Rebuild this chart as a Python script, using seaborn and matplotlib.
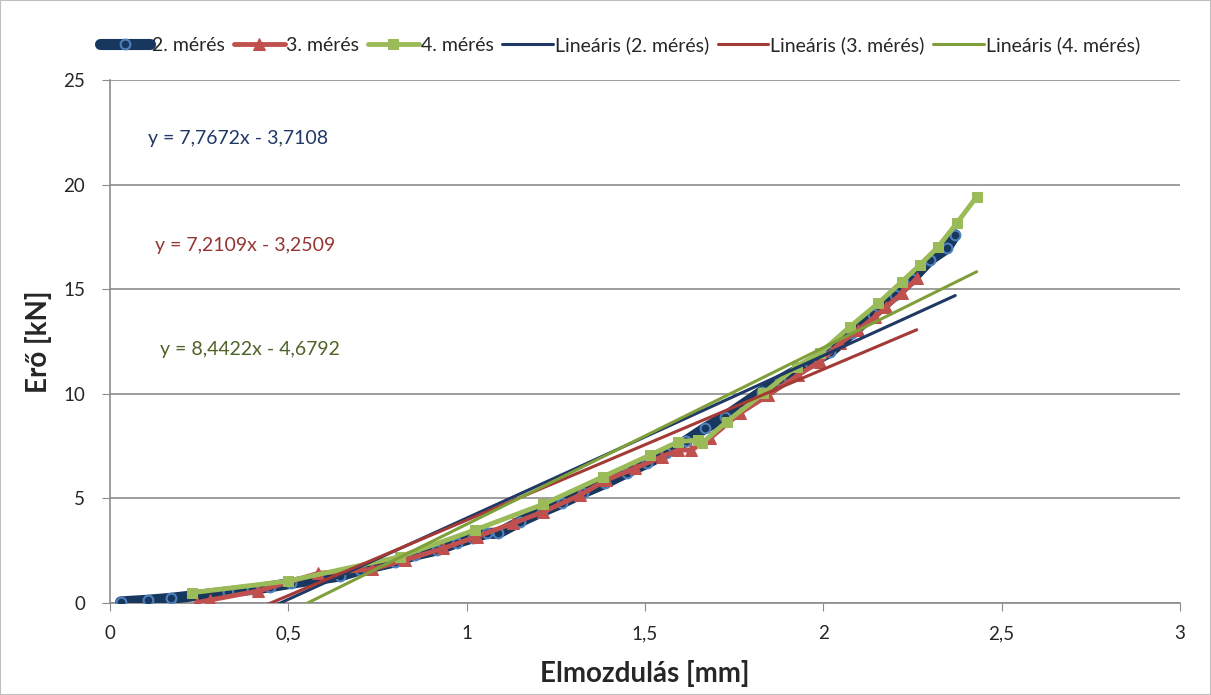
import numpy as np
import pandas as pd
import matplotlib
matplotlib.use("Agg")
import matplotlib.pyplot as plt
import seaborn as sns

# mért adatok (elmozdulás [mm], erő [kN])
x2 = [0.03, 0.107, 0.17, 0.33, 0.397, 0.45, 0.507, 0.645, 0.70, 0.80, 0.855, 0.916, 0.972,
      1.018, 1.056, 1.088, 1.15, 1.21, 1.266, 1.327, 1.388, 1.449, 1.505, 1.56, 1.615, 1.668,
      1.724, 1.827, 1.878, 1.962, 2.02, 2.08, 2.14, 2.2, 2.25, 2.299, 2.346, 2.37]
y2 = [0.05, 0.13, 0.22, 0.53, 0.65, 0.78, 0.94, 1.29, 1.58, 1.97, 2.29, 2.53, 2.88,
      3.12, 3.33, 3.33, 3.89, 4.36, 4.77, 5.27, 5.72, 6.23, 6.68, 7.16, 7.75, 8.35,
      8.9, 10.1, 10.66, 11.47, 12.0, 12.9, 13.8, 14.7, 15.5, 16.4, 16.95, 17.6]

x3 = [0.243, 0.28, 0.415, 0.584, 0.734, 0.827, 0.934, 1.028, 1.13, 1.215, 1.318, 1.392,
      1.472, 1.547, 1.593, 1.63, 1.682, 1.766, 1.846, 1.93, 1.99, 2.047, 2.098, 2.145,
      2.177, 2.22, 2.262]
y3 = [0.01, 0.14, 0.57, 1.42, 1.61, 2.05, 2.61, 3.17, 3.81, 4.36, 5.16, 5.88,
      6.44, 6.99, 7.31, 7.31, 7.87, 9.07, 9.94, 10.9, 11.54, 12.41, 13.05, 13.69,
      14.16, 14.8, 15.52]

x4 = [0.229, 0.5, 0.813, 1.023, 1.215, 1.383, 1.514, 1.593, 1.65, 1.659, 1.729, 1.832,
      1.925, 1.99, 2.075, 2.154, 2.22, 2.271, 2.322, 2.374, 2.43]
y4 = [0.49, 1.05, 2.21, 3.49, 4.72, 6.04, 7.07, 7.71, 7.79, 7.63, 8.67, 10.02,
      11.3, 11.94, 13.21, 14.33, 15.36, 16.16, 17.03, 18.15, 19.42]

# lineáris trendvonalak (Excel szerint)
slopes = [7.7672, 7.2109, 8.4422]
intercepts = [-3.7108, -3.2509, -4.6792]
eq_labels = ["y = 7,7672x - 3,7108", "y = 7,2109x - 3,2509", "y = 8,4422x - 4,6792"]
names = ["2. mérés", "3. mérés", "4. mérés"]

sns.set_style("white")
plt.rcParams["font.family"] = ["Lato", "DejaVu Sans"]

fig = plt.figure(figsize=(12.11, 6.95), dpi=100)
ax = fig.add_axes([0.0908, 0.1324, 0.8836, 0.7525])
fig.patches.append(plt.Rectangle((0, 0), 1, 1, transform=fig.transFigure,
                                 fill=False, edgecolor="#bfbfbf", lw=1.5))

series_col = ["#17375E", "#C0504D", "#9BBB59"]
trend_col = ["#1F3864", "#A33A36", "#7F9F3A"]
text_col = ["#1F3864", "#943634", "#4F6228"]

xs = [x2, x3, x4]
ys = [y2, y3, y4]

sns.lineplot(x=x2, y=y2, ax=ax, sort=False, color=series_col[0], lw=8, marker="o",
             markersize=7, markerfacecolor=series_col[0], markeredgecolor="#4F81BD",
             markeredgewidth=1.5, label=names[0], zorder=3)
sns.lineplot(x=x3, y=y3, ax=ax, sort=False, color=series_col[1], lw=3.5, marker="^",
             markersize=9, markeredgecolor=series_col[1], label=names[1], zorder=4)
sns.lineplot(x=x4, y=y4, ax=ax, sort=False, color=series_col[2], lw=3.5, marker="s",
             markersize=7, markeredgecolor=series_col[2], label=names[2], zorder=5)

for i in range(3):
    tx = np.array([min(xs[i]), max(xs[i])])
    ty = slopes[i] * tx + intercepts[i]
    sns.lineplot(x=tx, y=ty, ax=ax, color=trend_col[i], lw=2.2,
                 label=f"Lineáris ({names[i]})", zorder=6)

eq_pos = [(0.107, 22.2), (0.126, 17.1), (0.14, 12.1)]
for i in range(3):
    ax.text(eq_pos[i][0], eq_pos[i][1], eq_labels[i], color=text_col[i],
            fontsize=14, ha="left", va="center")

ax.set_xlim(0, 3)
ax.set_ylim(0, 25)
ax.set_xticks([0, 0.5, 1, 1.5, 2, 2.5, 3])
ax.set_xticklabels(["0", "0,5", "1", "1,5", "2", "2,5", "3"])
ax.set_yticks([0, 5, 10, 15, 20, 25])
ax.yaxis.grid(True, color="#8c8c8c", lw=1.2)
ax.xaxis.grid(False)
for s in ["top", "right"]:
    ax.spines[s].set_visible(False)
for s in ["left", "bottom"]:
    ax.spines[s].set_color("#8c8c8c")
    ax.spines[s].set_linewidth(1.2)
ax.tick_params(axis="both", which="both", direction="out", length=6, color="#8c8c8c",
               labelsize=13.5, bottom=True, left=True)
ax.tick_params(axis="x", pad=10)
ax.tick_params(axis="y", pad=12)
ax.set_xlabel("Elmozdulás [mm]", fontsize=20, fontweight="bold", labelpad=13)
ax.set_ylabel("Erő [kN]", fontsize=20, fontweight="bold", labelpad=8)

handles, labels = ax.get_legend_handles_labels()
ax.legend(handles, labels, loc="center", bbox_to_anchor=(0.512, 0.935),
          bbox_transform=fig.transFigure, ncol=6, frameon=False, fontsize=14,
          handlelength=2.6, handletextpad=0.1, columnspacing=0.45)

fig.savefig("out.png", dpi=100)
